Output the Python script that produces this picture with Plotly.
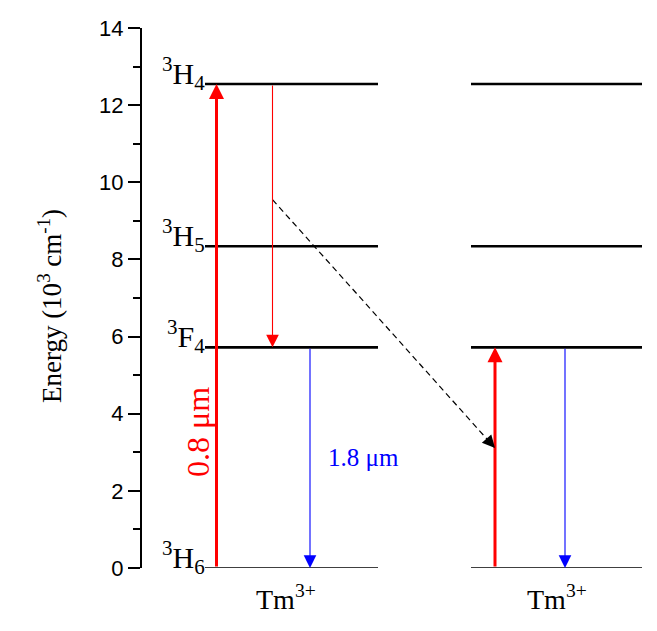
import plotly.graph_objects as go

# ---------------- data ----------------
level_labels = ["<sup>3</sup>H<sub>6</sub>", "<sup>3</sup>F<sub>4</sub>",
                "<sup>3</sup>H<sub>5</sub>", "<sup>3</sup>H<sub>4</sub>"]
level_energies = [0.0, 5.72, 8.34, 12.55]          # 10^3 cm^-1
ion_labels = ["Tm<sup>3+</sup>", "Tm<sup>3+</sup>"]
y_tick_values = [0, 2, 4, 6, 8, 10, 12, 14]
y_tick_labels = ["0", "2", "4", "6", "8", "10", "12", "14"]
y_minor_values = [1, 3, 5, 7, 9, 11, 13]
pump_label = "0.8 μm"
emission_label = "1.8 μm"
transfer_start_energy = 9.55
transfer_end_energy = 3.11

# ---------------- layout geometry (x in arbitrary units 0..10) ----------------
ion_spans = [(1.26, 4.72), (6.58, 10.0)]
ion_label_x = [2.88, 8.30]
pump_x = [1.49, 7.06]
relax_x = 2.61
emission_x = [3.36, 8.46]

RED = "#ff0000"
BLUE = "#0000ff"
SERIF = "Liberation Serif, Times New Roman, serif"
SANS = "Liberation Sans, Arial, sans-serif"

fig = go.Figure()

# energy level lines
for e, lab in zip(level_energies, level_labels):
    xs, ys = [], []
    for (x0, x1) in ion_spans:
        xs += [x0, x1, None]
        ys += [e, e, None]
    fig.add_trace(go.Scatter(x=xs, y=ys, mode="lines",
                             line=dict(color="black", width=1.5 if e == 0 else 2.6),
                             hoverinfo="skip", showlegend=False))
    fig.add_annotation(x=ion_spans[0][0], y=e, xref="x", yref="y",
                       text=lab, showarrow=False, xanchor="right", yanchor="bottom",
                       yshift=-13, xshift=2,
                       font=dict(family=SERIF, size=30, color="black"))

# dashed energy-transfer line
fig.add_trace(go.Scatter(x=[relax_x, pump_x[1]],
                         y=[transfer_start_energy, transfer_end_energy],
                         mode="lines", line=dict(color="black", width=1.2, dash="6px,4px"),
                         hoverinfo="skip", showlegend=False))


def arrow(x0, y0, x1, y1, color, width, size):
    fig.add_annotation(x=x1, y=y1, ax=x0, ay=y0, xref="x", yref="y",
                       axref="x", ayref="y", text="", showarrow=True,
                       arrowhead=2, arrowsize=size, arrowwidth=width,
                       arrowcolor=color, standoff=0, startstandoff=0)


# pump arrows (0.8 um)
arrow(pump_x[0], level_energies[0], pump_x[0], level_energies[3], RED, 3, 1.0)
arrow(pump_x[1], level_energies[0], pump_x[1], level_energies[1], RED, 3, 1.0)
# relaxation
arrow(relax_x, level_energies[3], relax_x, level_energies[1], RED, 1.1, 2.3)
# 1.8 um emission
arrow(emission_x[0], level_energies[1], emission_x[0], level_energies[0], BLUE, 1.1, 2.3)
arrow(emission_x[1], level_energies[1], emission_x[1], level_energies[0], BLUE, 1.1, 2.3)
# dashed arrow head
dx = pump_x[1] - relax_x
dy = transfer_end_energy - transfer_start_energy
arrow(pump_x[1] - 0.02 * dx, transfer_end_energy - 0.02 * dy,
      pump_x[1], transfer_end_energy, "black", 1.1, 2.3)

# wavelength labels
fig.add_annotation(x=0.112, y=0.252, xref="paper", yref="paper", text=pump_label,
                   textangle=-90, showarrow=False, xanchor="center", yanchor="middle",
                   font=dict(family=SERIF, size=32, color=RED))
fig.add_annotation(x=0.442, y=0.204, xref="paper", yref="paper", text=emission_label,
                   showarrow=False, xanchor="center", yanchor="middle",
                   font=dict(family=SERIF, size=25, color=BLUE))

# ion labels
for xl, lab in zip(ion_label_x, ion_labels):
    fig.add_annotation(x=xl, y=0, xref="x", yref="paper", text=lab, showarrow=False,
                       xanchor="center", yanchor="top", yshift=-10,
                       font=dict(family=SERIF, size=28, color="black"))

# y-axis title
fig.add_annotation(x=-0.184, y=0.485, xref="paper", yref="paper",
                   text="Energy (10<sup>3</sup> cm<sup>-1</sup>)", textangle=-90,
                   showarrow=False, xanchor="center", yanchor="middle",
                   font=dict(family=SERIF, size=27, color="black"))

fig.update_xaxes(range=[0, 10], visible=False, fixedrange=True)
fig.update_yaxes(range=[0, 14], tickvals=y_tick_values, ticktext=y_tick_labels,
                 ticks="outside", ticklen=12, tickwidth=2, tickcolor="black",
                 showline=True, linecolor="black", linewidth=2,
                 showgrid=False, zeroline=False,
                 tickfont=dict(family=SANS, size=22, color="black"),
                 minor=dict(tickvals=y_minor_values, ticks="outside",
                            ticklen=7, tickwidth=2, tickcolor="black"))

fig.update_layout(width=649, height=623,
                  margin=dict(l=134, r=15, t=20, b=63, autoexpand=False),
                  paper_bgcolor="white", plot_bgcolor="white",
                  showlegend=False)

fig.write_html("out.html")
